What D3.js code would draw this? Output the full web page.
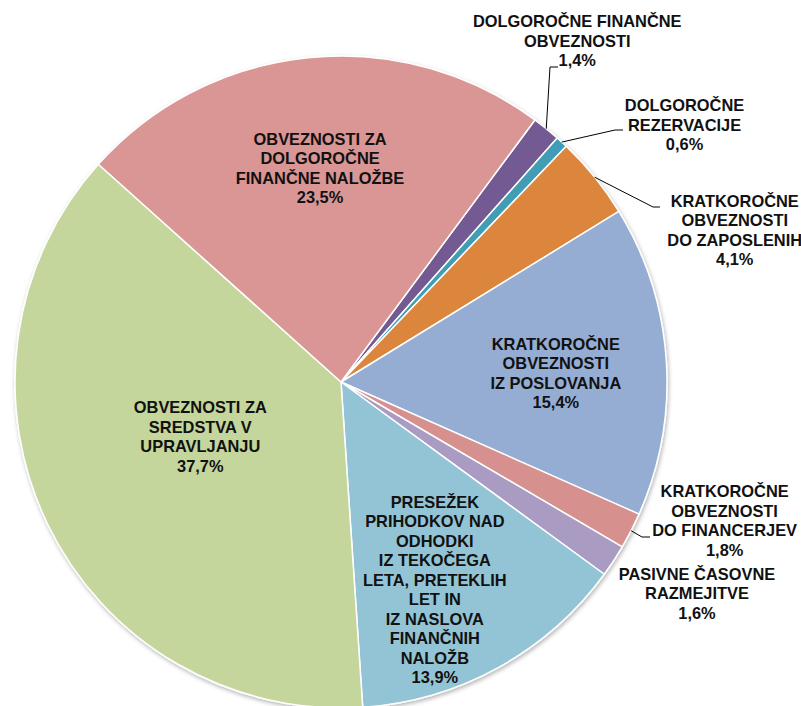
<!DOCTYPE html>
<html>
<head>
<meta charset="utf-8">
<script src="https://cdn.jsdelivr.net/npm/d3@7"></script>
<style>
  body { margin: 0; background: #fff; }
  text { font-family: "Liberation Sans", Arial, sans-serif; font-weight: bold; font-size: 16.4px; fill: #111; }
</style>
</head>
<body>
<div id="chart"></div>
<script>
// slices in clockwise order, starting after the first-slice angle
const categories = [
  ['DOLGOROČNE FINANČNE', 'OBVEZNOSTI'],
  ['DOLGOROČNE', 'REZERVACIJE'],
  ['KRATKOROČNE', 'OBVEZNOSTI', 'DO ZAPOSLENIH'],
  ['KRATKOROČNE', 'OBVEZNOSTI', 'IZ POSLOVANJA'],
  ['KRATKOROČNE', 'OBVEZNOSTI', 'DO FINANCERJEV'],
  ['PASIVNE ČASOVNE', 'RAZMEJITVE'],
  ['PRESEŽEK', 'PRIHODKOV NAD', 'ODHODKI', 'IZ TEKOČEGA', 'LETA, PRETEKLIH', 'LET IN', 'IZ NASLOVA', 'FINANČNIH', 'NALOŽB'],
  ['OBVEZNOSTI ZA', 'SREDSTVA V', 'UPRAVLJANJU'],
  ['OBVEZNOSTI ZA', 'DOLGOROČNE', 'FINANČNE NALOŽBE']
];
const values = [1.4, 0.6, 4.1, 15.4, 1.8, 1.6, 13.9, 37.7, 23.5];
const valueLabels = ['1,4%', '0,6%', '4,1%', '15,4%', '1,8%', '1,6%', '13,9%', '37,7%', '23,5%'];
const colors = ['#735a92', '#3f9db5', '#dc853d', '#95add3', '#d6918e', '#a99bc1', '#93c4d5', '#c4d69c', '#d99694'];

// label layout: polar position (deg, px from centre) of the text block centre,
// leader: null or [elbowX, elbowY, endX]
const labelLayout = [
  { angle: 34.7, r: 415, leader: [550, 67, 558] },
  { angle: 53.2, r: 429, leader: [615, 130, 623] },
  { angle: 68.9, r: 422, leader: [653, 207, 660] },
  { angle: 87.7, r: 215, leader: null },
  { angle: 109.9, r: 408, leader: [642, 537, 650] },
  { angle: 120.7, r: 414, leader: null },
  { angle: 155.7, r: 228, leader: null },
  { angle: 248.7, r: 151, leader: null },
  { angle: 354.4, r: 215, leader: null }
];

const width = 801, height = 706;
const cx = 341, cy = 382, radius = 326;
const firstSliceAngle = 36.5;
const lineHeight = 19.5;

const svg = d3.select('#chart').append('svg')
  .attr('width', width)
  .attr('height', height);

const defs = svg.append('defs');
defs.append('filter')
  .attr('id', 'shadow')
  .attr('x', '-10%').attr('y', '-10%').attr('width', '120%').attr('height', '120%')
  .append('feDropShadow')
  .attr('dx', 1).attr('dy', 2).attr('stdDeviation', 2)
  .attr('flood-color', '#000').attr('flood-opacity', 0.3);

const data = values.map((v, i) => ({ value: v, i: i }));

const pie = d3.pie()
  .value(d => d.value)
  .sort(null)
  .startAngle(firstSliceAngle * Math.PI / 180)
  .endAngle((firstSliceAngle + 360) * Math.PI / 180);

const arc = d3.arc().innerRadius(0).outerRadius(radius);
const arcs = pie(data);

const g = svg.append('g').attr('transform', 'translate(' + cx + ',' + cy + ')');

g.append('g')
  .attr('filter', 'url(#shadow)')
  .selectAll('path')
  .data(arcs)
  .enter()
  .append('path')
  .attr('d', arc)
  .attr('fill', d => colors[d.data.i])
  .attr('stroke', '#fff')
  .attr('stroke-width', 1.5)
  .attr('stroke-linejoin', 'round');

function polar(angleDeg, r) {
  const a = angleDeg * Math.PI / 180;
  return [r * Math.sin(a), -r * Math.cos(a)];
}

// leader lines
arcs.forEach(d => {
  const lay = labelLayout[d.data.i];
  if (!lay.leader) return;
  const mid = (d.startAngle + d.endAngle) / 2;
  const sx = radius * Math.sin(mid), sy = -radius * Math.cos(mid);
  const pts = [[sx, sy], [lay.leader[0] - cx, lay.leader[1] - cy], [lay.leader[2] - cx, lay.leader[1] - cy]];
  g.append('path')
    .attr('d', d3.line()(pts))
    .attr('fill', 'none')
    .attr('stroke', '#000')
    .attr('stroke-width', 1);
});

// labels
arcs.forEach(d => {
  const i = d.data.i;
  const lay = labelLayout[i];
  const p = polar(lay.angle, lay.r);
  const lines = categories[i].concat([valueLabels[i]]);
  const t = g.append('text')
    .attr('text-anchor', 'middle')
    .attr('transform', 'translate(' + p[0] + ',' + p[1] + ')');
  const y0 = -(lines.length - 1) * lineHeight / 2;
  lines.forEach((ln, k) => {
    t.append('tspan')
      .attr('x', 0)
      .attr('y', y0 + k * lineHeight)
      .attr('dy', '0.35em')
      .text(ln);
  });
});
</script>
</body>
</html>
